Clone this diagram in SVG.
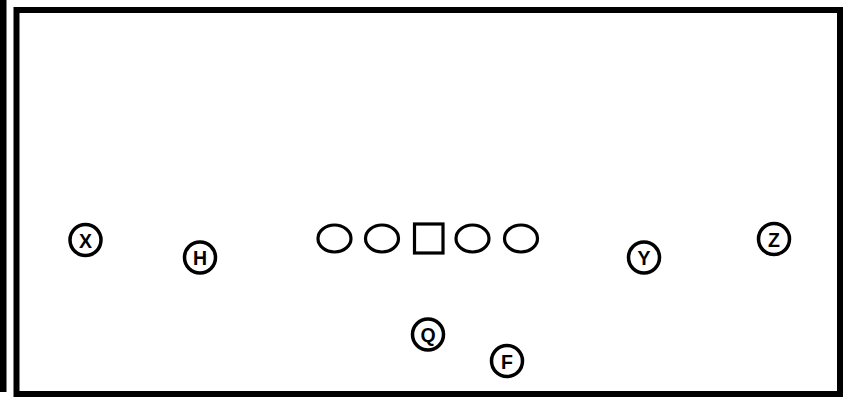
<svg xmlns="http://www.w3.org/2000/svg" width="843" height="397" viewBox="0 0 843 397">
<style>
.frame{fill:none;stroke:#000;stroke-width:6}
.lin{fill:none;stroke:#000;stroke-width:3.2}
.pl{fill:#fff;stroke:#000;stroke-width:3.5}
.lb{font-family:"Liberation Sans",Arial,sans-serif;font-weight:bold;font-size:19.5px;text-anchor:middle;dominant-baseline:central;fill:#000}
</style>
<rect x="0" y="0" width="843" height="397" fill="#fff"/>
<rect x="0" y="0" width="6.5" height="392" fill="#000"/>
<rect class="frame" x="16.5" y="10" width="823.5" height="384"/>
<g id="connectors"></g>
<g id="lt"><ellipse class="lin" cx="334.5" cy="238.5" rx="16.5" ry="13.5"/></g>
<g id="lg"><ellipse class="lin" cx="382" cy="238.5" rx="16.5" ry="13.5"/></g>
<g id="c"><rect class="lin" x="414.5" y="224" width="28.5" height="29"/></g>
<g id="rg"><ellipse class="lin" cx="472.5" cy="238.5" rx="16.5" ry="13.5"/></g>
<g id="rt"><ellipse class="lin" cx="521" cy="238.5" rx="16.5" ry="13.5"/></g>
<g id="X"><circle class="pl" cx="85.5" cy="240" r="15.5"/><text class="lb" x="85.5" y="240.5">X</text></g>
<g id="H"><circle class="pl" cx="200" cy="257.5" r="15.5"/><text class="lb" x="200" y="258">H</text></g>
<g id="Y"><circle class="pl" cx="644" cy="257.5" r="15.5"/><text class="lb" x="644" y="258">Y</text></g>
<g id="Z"><circle class="pl" cx="774" cy="239" r="15.5"/><text class="lb" x="774" y="239.5">Z</text></g>
<g id="Q"><circle class="pl" cx="428" cy="334.5" r="15.5"/><text class="lb" x="428" y="335">Q</text></g>
<g id="F"><circle class="pl" cx="507" cy="361" r="15.5"/><text class="lb" x="507" y="361.5">F</text></g>
</svg>
